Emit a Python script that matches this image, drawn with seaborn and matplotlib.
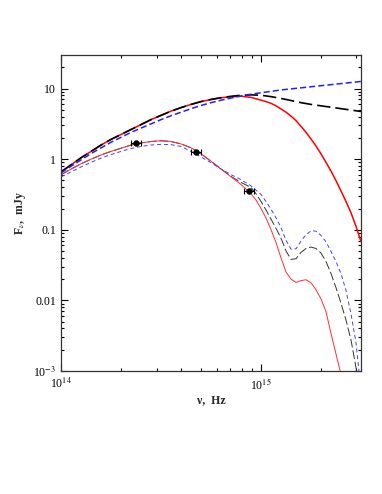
import numpy as np
import matplotlib
matplotlib.use("Agg")
import matplotlib.pyplot as plt
import seaborn as sns

# log10(nu/Hz) and log10(F/mJy)
lx_up = [14.0, 14.05, 14.1, 14.15, 14.2, 14.25, 14.3, 14.35, 14.4, 14.45, 14.5,
         14.55, 14.6, 14.65, 14.7, 14.75, 14.8, 14.85, 14.9, 14.95, 15.0, 15.05,
         15.1, 15.15, 15.2, 15.25, 15.3, 15.35, 15.4, 15.45, 15.5]
ly_up_black = [-0.18, -0.08, 0.02, 0.11, 0.20, 0.28, 0.35, 0.42, 0.49, 0.56, 0.62,
               0.68, 0.73, 0.775, 0.815, 0.845, 0.87, 0.89, 0.905, 0.91, 0.905, 0.885,
               0.86, 0.83, 0.80, 0.775, 0.755, 0.735, 0.715, 0.695, 0.675]
ly_up_blue = [-0.195, -0.10, -0.01, 0.08, 0.16, 0.24, 0.31, 0.38, 0.44, 0.50, 0.56,
              0.615, 0.665, 0.715, 0.76, 0.80, 0.835, 0.865, 0.895, 0.92, 0.94, 0.96,
              0.98, 0.995, 1.01, 1.025, 1.04, 1.055, 1.07, 1.085, 1.10]

lx_up_red = [14.0, 14.05, 14.1, 14.15, 14.2, 14.25, 14.3, 14.35, 14.4, 14.45, 14.5,
             14.55, 14.6, 14.65, 14.7, 14.75, 14.8, 14.85, 14.9, 14.95, 15.0, 15.025,
             15.05, 15.075, 15.1, 15.125, 15.15, 15.175, 15.2, 15.225, 15.25, 15.275,
             15.3, 15.325, 15.35, 15.375, 15.4, 15.425, 15.45, 15.475, 15.5]
ly_up_red = [-0.18, -0.08, 0.02, 0.11, 0.20, 0.28, 0.35, 0.42, 0.49, 0.56, 0.62,
             0.68, 0.73, 0.775, 0.815, 0.845, 0.87, 0.883, 0.89, 0.875, 0.835, 0.815,
             0.79, 0.755, 0.71, 0.665, 0.61, 0.545, 0.465, 0.38, 0.285, 0.185,
             0.075, -0.045, -0.17, -0.305, -0.45, -0.60, -0.76, -0.95, -1.17]

lx_lo = [14.0, 14.05, 14.1, 14.15, 14.2, 14.25, 14.3, 14.35, 14.4, 14.45, 14.5,
         14.55, 14.6, 14.65, 14.7, 14.75, 14.8, 14.85, 14.9, 14.95, 14.975, 15.0,
         15.025, 15.05, 15.075, 15.1, 15.125, 15.15, 15.175, 15.2, 15.225, 15.25,
         15.275, 15.3, 15.325, 15.35, 15.375, 15.4, 15.425, 15.45, 15.475, 15.49]
ly_lo_red = [-0.22, -0.14, -0.065, 0.0, 0.06, 0.11, 0.155, 0.20, 0.23, 0.25, 0.26,
             0.25, 0.215, 0.16, 0.075, -0.03, -0.14, -0.25, -0.36, -0.49, -0.58, -0.70,
             -0.835, -1.0, -1.18, -1.40, -1.60, -1.70, -1.745, -1.72, -1.708, -1.75,
             -1.85, -1.98, -2.16, -2.47, -2.76, -3.05, -3.3, -3.6, -3.9, -4.1]
ly_lo_black = [-0.22, -0.14, -0.065, 0.0, 0.06, 0.11, 0.155, 0.20, 0.23, 0.25, 0.26,
               0.25, 0.215, 0.16, 0.075, -0.03, -0.14, -0.245, -0.33, -0.40, -0.49, -0.60,
               -0.72, -0.85, -0.98, -1.12, -1.30, -1.42, -1.41, -1.32, -1.265, -1.245,
               -1.265, -1.33, -1.45, -1.62, -1.82, -2.04, -2.28, -2.56, -2.95, -3.2]
ly_lo_blue = [-0.25, -0.18, -0.11, -0.045, 0.015, 0.065, 0.11, 0.15, 0.18, 0.20, 0.21,
              0.205, 0.18, 0.11, 0.03, -0.05, -0.14, -0.22, -0.29, -0.38, -0.44, -0.50,
              -0.60, -0.71, -0.83, -0.97, -1.15, -1.275, -1.27, -1.16, -1.07, -1.015,
              -1.02, -1.08, -1.17, -1.31, -1.45, -1.62, -1.86, -2.19, -2.60, -3.0]

# photometric points
nu_pts = [2.37e14, 4.73e14, 8.7e14]
f_pts = [1.68, 1.26, 0.35]
xerr_dex = [0.025, 0.025, 0.025]

sns.set_style("ticks")
plt.rcParams["font.family"] = ["Liberation Serif", "DejaVu Serif"]
plt.rcParams["mathtext.fontset"] = "stix"

fig = plt.figure(figsize=(3.82, 4.94), dpi=100)
ax = fig.add_axes([0.160, 0.249, 0.785, 0.640])


def pw(a):
    return 10 ** np.asarray(a)


sns.lineplot(x=pw(lx_up_red), y=pw(ly_up_red), ax=ax, color="#ff0000", lw=1.1,
             sort=False, estimator=None)
sns.lineplot(x=pw(lx_up), y=pw(ly_up_black), ax=ax, color="black", lw=1.2,
             ls=(0, (8, 3)), sort=False, estimator=None)
sns.lineplot(x=pw(lx_up), y=pw(ly_up_blue), ax=ax, color="#2020ff", lw=1.1,
             ls=(0, (4, 2)), sort=False, estimator=None)

sns.lineplot(x=pw(lx_lo), y=pw(ly_lo_black), ax=ax, color="#333333", lw=0.7,
             ls=(0, (9, 3)), sort=False, estimator=None)
sns.lineplot(x=pw(lx_lo), y=pw(ly_lo_red), ax=ax, color="#ff3030", lw=0.7,
             sort=False, estimator=None)
sns.lineplot(x=pw(lx_lo), y=pw(ly_lo_blue), ax=ax, color="#4040ff", lw=0.7,
             ls=(0, (4, 3)), sort=False, estimator=None)

nu = np.array(nu_pts)
d = np.array(xerr_dex)
xerr = [nu - nu / 10 ** d, nu * 10 ** d - nu]
ax.errorbar(nu, f_pts, xerr=xerr, fmt="none", ecolor="black", elinewidth=0.8,
            capsize=2, capthick=0.8)
sns.scatterplot(x=nu, y=f_pts, ax=ax, color="black", s=18, edgecolor="black",
                zorder=5)

ax.set_xscale("log")
ax.set_yscale("log")
ax.set_xlim(1e14, 10 ** 15.5)
ax.set_ylim(1e-3, 30)

ax.set_xticks([1e14, 1e15])
ax.set_xticklabels([r"10$^{14}$", r"10$^{15}$"])
ax.set_xticks([k * 1e14 for k in range(2, 10)] + [2e15, 3e15], minor=True)
ax.set_xticklabels([], minor=True)
ax.set_yticks([1e-3, 1e-2, 0.1, 1, 10])
ax.set_yticklabels([r"10$^{-3}$", "0.01", "0.1", "1", "10"])
ax.set_yticks([k * 10.0 ** e for e in range(-3, 2) for k in range(2, 10)
               if k * 10.0 ** e < 30], minor=True)
ax.set_yticklabels([], minor=True)

ax.tick_params(which="both", direction="in", top=True, right=True,
               labelsize=8.5, width=0.8, colors="black")
ax.tick_params(which="major", length=5)
ax.tick_params(which="minor", length=2.5)
ax.tick_params(axis="x", pad=4)
for s in ax.spines.values():
    s.set_linewidth(0.9)
    s.set_color("#333333")

ax.set_xlabel("ν,  Hz", fontsize=8.5, fontweight="bold", labelpad=2)
ax.set_ylabel(r"F$_{\nu}$,  mJy", fontsize=8.5, fontweight="bold", labelpad=4)

fig.savefig("out.png", dpi=100)
